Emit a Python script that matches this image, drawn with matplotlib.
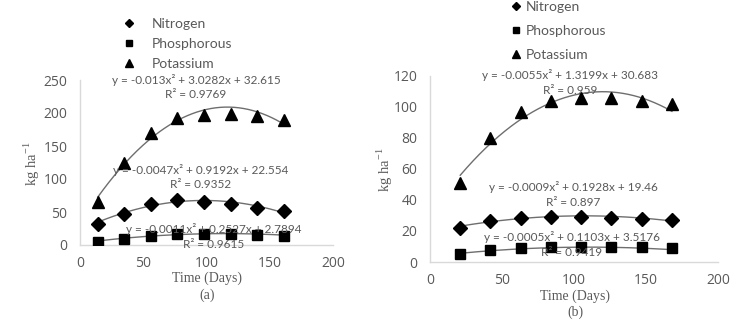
import matplotlib
matplotlib.use("Agg")
import matplotlib.pyplot as plt
import numpy as np

# (a)
days_a = [14, 35, 56, 77, 98, 119, 140, 161]
n_a = [32, 47, 62, 68, 65, 62, 56, 51]
p_a = [5, 9, 14, 16, 16, 16, 15, 14]
k_a = [65, 125, 170, 193, 197, 198, 196, 190]
# trendline coefficients (a2, a1, a0)
fit_n_a = [-0.0047, 0.9192, 22.554]
fit_p_a = [-0.0011, 0.2527, 2.7894]
fit_k_a = [-0.013, 3.0282, 32.615]

# (b)
days_b = [21, 42, 63, 84, 105, 126, 147, 168]
n_b = [22, 26.5, 28.5, 29, 29, 28.5, 27.5, 27]
p_b = [5, 8, 9, 10, 10, 10, 10, 9]
k_b = [51, 80, 97, 104, 106, 106, 104, 102]
fit_n_b = [-0.0009, 0.1928, 19.46]
fit_p_b = [-0.0005, 0.1103, 3.5176]
fit_k_b = [-0.0055, 1.3199, 30.683]

r2_a = ["0.9352", "0.9615", "0.9769"]
r2_b = ["0.897", "0.9419", "0.959"]

tick_font = "Open Sans"
eq_font = "Lato"
serif = "Liberation Serif"
grey = "#595959"

fig = plt.figure(figsize=(7.37, 3.2), dpi=100)
ax1 = fig.add_axes([80/737, 1-245/320, 253/737, 165/320])
ax2 = fig.add_axes([430/737, 1-262/320, 288/737, 186/320])


def draw(ax, days, n, p, k, fits, ymax, ystep):
    x = np.array(days, dtype=float)
    xs = np.linspace(x[0], x[-1], 200)
    for c in fits:
        ax.plot(xs, np.polyval(c, xs), color="#6e6e6e", lw=1.0, zorder=1)
    ax.plot(days, n, ls="none", marker="D", ms=7, color="black", label="Nitrogen", zorder=3)
    ax.plot(days, p, ls="none", marker="s", ms=7, color="black", label="Phosphorous", zorder=3)
    ax.plot(days, k, ls="none", marker="^", ms=9, color="black", label="Potassium", zorder=3)
    ax.set_xlim(0, 200)
    ax.set_ylim(0, ymax)
    ax.set_xticks(np.arange(0, 201, 50))
    ax.set_yticks(np.arange(0, ymax + 1, ystep))
    for s in ["top", "right"]:
        ax.spines[s].set_visible(False)
    for s in ["left", "bottom"]:
        ax.spines[s].set_color("#d9d9d9")
        ax.spines[s].set_linewidth(1)
    ax.tick_params(length=0, labelsize=10, labelcolor=grey)
    ax.tick_params(axis="y", pad=9)
    ax.tick_params(axis="x", pad=8)
    for lab in ax.get_xticklabels() + ax.get_yticklabels():
        lab.set_family(tick_font)


draw(ax1, days_a, n_a, p_a, k_a, [fit_n_a, fit_p_a, fit_k_a], 250, 50)
draw(ax2, days_b, n_b, p_b, k_b, [fit_n_b, fit_p_b, fit_k_b], 120, 20)


def eq(c):
    s = "y = %gx² + %gx + %g" % (c[0], c[1], c[2])
    return s


def put(xc, y1, c, r2):
    fig.text(xc/737, 1-y1/320, eq(c), ha="center", va="center",
             family=eq_font, fontsize=8.5, color=grey)
    fig.text(xc/737, 1-(y1+15)/320, "R² = " + r2, ha="center", va="center",
             family=eq_font, fontsize=8.5, color=grey)


put(196, 80, fit_k_a, r2_a[2])
put(201, 170, fit_n_a, r2_a[0])
put(214, 229, fit_p_a, r2_a[1])
put(570, 75, fit_k_b, r2_b[2])
put(573, 187, fit_n_b, r2_b[0])
put(572, 237, fit_p_b, r2_b[1])

leg1 = ax1.legend(loc="center left", bbox_to_anchor=(110/737, 1-44/320),
                  bbox_transform=fig.transFigure, frameon=False, markerscale=0.65,
                  handlelength=1.0, handletextpad=1.1, labelspacing=0.55,
                  prop={"family": eq_font, "size": 10})
leg2 = ax2.legend(loc="center left", bbox_to_anchor=(497/737, 1-31/320),
                  bbox_transform=fig.transFigure, frameon=False, markerscale=0.65,
                  handlelength=1.0, handletextpad=0.2, labelspacing=0.85,
                  prop={"family": eq_font, "size": 10})
for lg in (leg1, leg2):
    for t in lg.get_texts():
        t.set_color(grey)

ylab = r"kg ha$^{\mathregular{-1}}$"
fig.text(32/737, 1-164/320, ylab, rotation=90, ha="center", va="center",
         family=serif, fontsize=10.5, color=grey)
fig.text(385/737, 1-170/320, ylab, rotation=90, ha="center", va="center",
         family=serif, fontsize=10.5, color=grey)
fig.text(207/737, 1-278/320, "Time (Days)", ha="center", va="center",
         family=serif, fontsize=10, color=grey)
fig.text(207/737, 1-295/320, "(a)", ha="center", va="center",
         family=serif, fontsize=10, color=grey)
fig.text(575/737, 1-296/320, "Time (Days)", ha="center", va="center",
         family=serif, fontsize=10, color=grey)
fig.text(575/737, 1-312/320, "(b)", ha="center", va="center",
         family=serif, fontsize=10, color=grey)

fig.savefig("out.png", dpi=100)
